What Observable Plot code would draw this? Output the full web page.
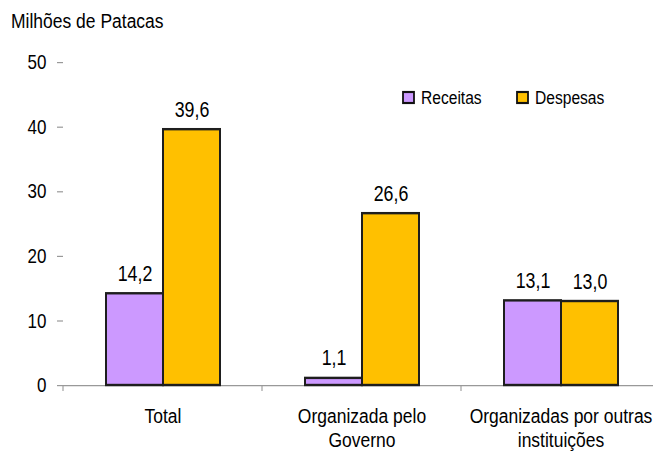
<!DOCTYPE html>
<html><head><meta charset="utf-8">
<script src="https://cdn.jsdelivr.net/npm/d3@7"></script>
<script src="https://cdn.jsdelivr.net/npm/@observablehq/plot@0.6"></script>
<style>
html,body{margin:0;padding:0;background:#fff;overflow:hidden;}
#chart svg{display:block;}
</style></head><body><div id="chart"></div>
<script>
const categories = ["Total", "Organizada pelo\nGoverno", "Organizadas por outras\ninstituições"];
const series = ["Receitas", "Despesas"];
const receitas = [14.2, 1.1, 13.1];
const despesas = [39.6, 26.6, 13.0];
const yTicks = [0, 10, 20, 30, 40, 50];
const colors = ["#CC99FF", "#FFC000"];
const yTitle = "Milhões de Patacas";

const K = 1.2;            // vertical stretch of the reference picture
const W = 653, H = 452;
const HV = H / K;
const font = "'Liberation Sans', Arial, Helvetica, sans-serif";

const rows = categories.flatMap((c, i) => series.map((s, j) => ({
  category: c, series: s, value: j === 0 ? receitas[i] : despesas[i]
})));

const plot = Plot.plot({
  width: W, height: HV,
  marginLeft: 63, marginRight: -7, marginTop: 62 / K, marginBottom: HV - 385 / K,
  style: {fontFamily: font, background: "white", color: "black"},
  fx: {domain: categories, padding: 0, axis: null},
  x: {domain: series, paddingInner: 0, paddingOuter: 0.73, axis: null},
  y: {domain: [0, 50], axis: null},
  color: {domain: series, range: colors},
  marks: [
    Plot.axisY({ticks: yTicks, tickSize: 6, tickPadding: 11, fontSize: 17, stroke: "#999", fill: "black", line: true, label: null, tickFormat: d => String(d)}),
    Plot.ruleY([0], {stroke: "#999", strokeWidth: 1.1}),
    Plot.barY(rows, {fx: "category", x: "series", y: "value", fill: "series", stroke: "#1e1e1e", strokeWidth: 2}),
    Plot.text(rows, {fx: "category", x: "series", y: "value", text: d => d.value.toFixed(1).replace(".", ","), lineAnchor: "bottom", dy: -13 / K, fontSize: 17.8, fill: "black"}),
    Plot.text(categories, {fx: d => d, text: d => d, frameAnchor: "bottom", lineAnchor: "top", dy: 21 / K, fontSize: 17.5, lineHeight: 1.12, fill: "black"})
  ]
});

const svg = plot;
const fx = plot.scale("fx");
const y = plot.scale("y");
const y0 = y.apply(0);
const s = d3.select(svg);

// category boundary ticks on the x axis
const gt = s.append("g").attr("stroke", "#999").attr("stroke-width", 1.1);
categories.forEach(c => {
  const x = fx.apply(c);
  gt.append("line").attr("x1", x).attr("x2", x).attr("y1", y0).attr("y2", y0 + 6 / K);
});

// axis title
s.append("text").attr("x", 11).attr("y", 28 / K).attr("text-anchor", "start")
  .attr("font-size", 17.5).attr("fill", "black").text(yTitle);

// legend
const legendX = [402, 516];
const lg = s.append("g").attr("font-size", 15.6).attr("fill", "black").attr("text-anchor", "start");
series.forEach((name, i) => {
  lg.append("rect").attr("x", legendX[i] + 1).attr("y", 92 / K).attr("width", 11).attr("height", 11 / K)
    .attr("fill", colors[i]).attr("stroke", "#111").attr("stroke-width", 1.8);
  lg.append("text").attr("x", legendX[i] + 19).attr("y", 104 / K).text(name);
});

svg.setAttribute("viewBox", `0 0 ${W} ${HV}`);
svg.setAttribute("width", W);
svg.setAttribute("height", H);
svg.setAttribute("preserveAspectRatio", "none");
svg.style.width = W + "px";
svg.style.height = H + "px";
svg.style.maxWidth = "none";
document.getElementById("chart").appendChild(svg);
</script>
</body></html>
